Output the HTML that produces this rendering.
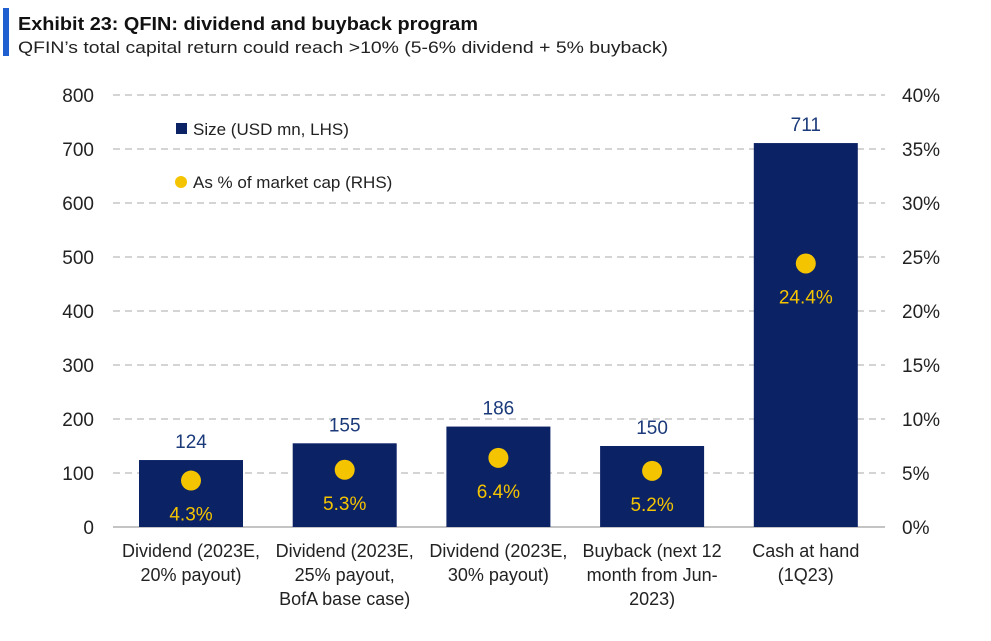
<!DOCTYPE html>
<html><head><meta charset="utf-8"><style>
body{margin:0;background:#fff;width:991px;height:636px;overflow:hidden;font-family:"Liberation Sans",sans-serif}
</style></head><body>
<svg width="991" height="636" xmlns="http://www.w3.org/2000/svg">
<rect x="3" y="8" width="6" height="48" fill="#1f5fcf"/>
<text x="18" y="30" font-size="18" font-weight="bold" fill="#111" font-family="Liberation Sans" textLength="460" lengthAdjust="spacingAndGlyphs">Exhibit 23: QFIN: dividend and buyback program</text>
<text x="18" y="53" font-size="16.5" fill="#222" font-family="Liberation Sans" textLength="650" lengthAdjust="spacingAndGlyphs">QFIN’s total capital return could reach &gt;10% (5-6% dividend + 5% buyback)</text>
<g id="grid"></g><g id="bars"></g>
<rect x="176" y="123" width="11" height="11" fill="#0b2265"/>
<text x="193" y="135" font-size="17" fill="#222">Size (USD mn, LHS)</text>
<circle cx="181" cy="182" r="6" fill="#f5c400"/>
<text x="193" y="188" font-size="17" fill="#222">As % of market cap (RHS)</text>
</svg>
<script>
const categories=[["Dividend (2023E,","20% payout)"],["Dividend (2023E,","25% payout,","BofA base case)"],["Dividend (2023E,","30% payout)"],["Buyback (next 12","month from Jun-","2023)"],["Cash at hand","(1Q23)"]];
const sizes=[124,155,186,150,711];
const pcts=[4.3,5.3,6.4,5.2,24.4];
const leftTicks=[0,100,200,300,400,500,600,700,800];
const rightTicks=[0,5,10,15,20,25,30,35,40];
const NS="http://www.w3.org/2000/svg";
const y0=527,yTop=95;
const yL=v=>y0-(v/800)*(y0-yTop);
const yR=v=>y0-(v/40)*(y0-yTop);
const xC=i=>191+i*153.7;
function mk(t,a,p,txt){const e=document.createElementNS(NS,t);for(const k in a)e.setAttribute(k,a[k]);if(txt!==undefined)e.textContent=txt;p.appendChild(e);return e;}
const g=document.getElementById('grid'),b=document.getElementById('bars');
leftTicks.forEach((v,i)=>{
 if(v>0){const l=mk('line',{x1:113,x2:885,y1:yL(v),y2:yL(v),stroke:'#bbb','stroke-width':1.3,'stroke-dasharray':'7,5'},g);
 }
 const t=mk('text',{x:94,y:yL(v)+7,'text-anchor':'end','font-size':19,fill:'#222'},g,v);
 
});
rightTicks.forEach(v=>{
 const t=mk('text',{x:902,y:yR(v)+7,'font-size':19,fill:'#222'},g,v+'%');
 
});
const ax=mk('line',{x1:113,x2:885,y1:y0,y2:y0,stroke:'#888','stroke-width':1},g);

sizes.forEach((v,i)=>{
 const x=xC(i);
 const r=mk('rect',{x:x-52,y:yL(v),width:104,height:y0-yL(v),fill:'#0b2265'},b);
 
 const t=mk('text',{x:x,y:yL(v)-12,'text-anchor':'middle','font-size':19,fill:'#1b3a7a'},b,v);
 
 const c=mk('circle',{cx:x,cy:yR(pcts[i]),r:10,fill:'#f5c400'},b);
 
 const p=mk('text',{x:x,y:yR(pcts[i])+40,'text-anchor':'middle','font-size':19,fill:'#f5c400'},b,pcts[i].toFixed(1)+'%');
 
 categories[i].forEach((s,j)=>{
  const c2=mk('text',{x:x,y:557+j*24,'text-anchor':'middle','font-size':18,fill:'#222'},b,s);
  
 });
});
</script>
</body></html>
